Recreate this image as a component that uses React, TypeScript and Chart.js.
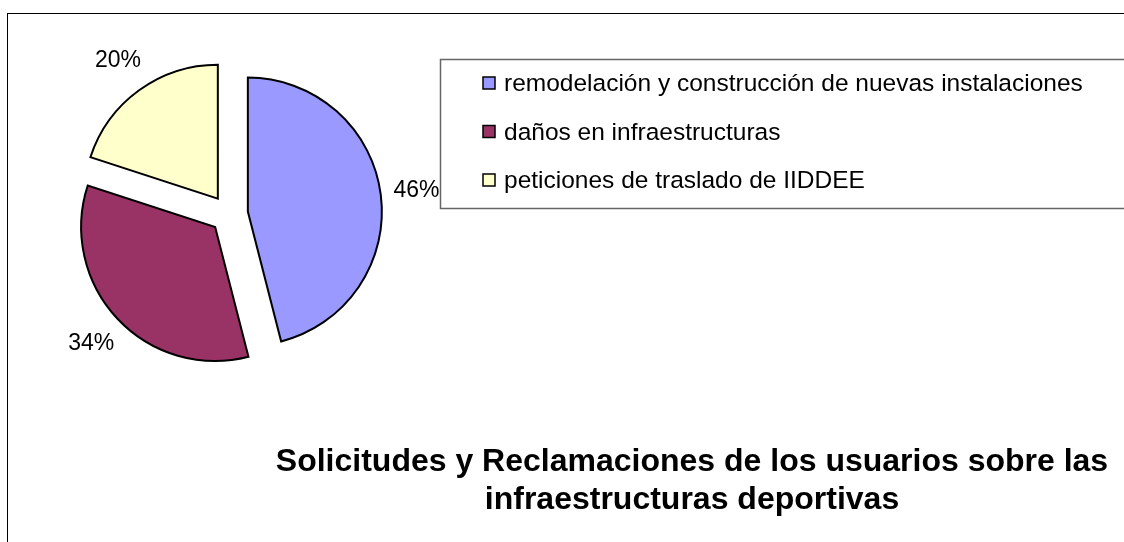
import React, { useEffect, useRef } from 'react';
import { Chart, registerables } from 'chart.js';

Chart.register(...registerables);

const categories = [
  'remodelación y construcción de nuevas instalaciones',
  'daños en infraestructuras',
  'peticiones de traslado de IIDDEE',
];
const values = [46, 34, 20];
const sliceColors = ['#9999FF', '#993366', '#FFFFCC'];
const titleLines = [
  'Solicitudes y Reclamaciones de los usuarios sobre las',
  'infraestructuras deportivas',
];

const FONT = '"Liberation Sans", Arial, Helvetica, sans-serif';
const EXPLODE = 19;
const LABEL_DIST = 189;

const framePlugin = {
  id: 'frame',
  beforeDraw(chart: any) {
    const ctx = chart.ctx;
    ctx.save();
    ctx.fillStyle = '#ffffff';
    ctx.fillRect(0, 0, chart.width, chart.height);
    ctx.strokeStyle = '#000000';
    ctx.lineWidth = 1;
    ctx.strokeRect(7.5, 13.5, chart.width + 20, chart.height + 20);
    ctx.restore();
  },
};

const explodePlugin = {
  id: 'explode',
  beforeDatasetDraw(chart: any, args: any) {
    const ctx = chart.ctx;
    args.meta.data.forEach((arc: any) => {
      const p = arc.getProps(['startAngle', 'endAngle'], true);
      const mid = (p.startAngle + p.endAngle) / 2;
      ctx.save();
      ctx.translate(Math.cos(mid) * EXPLODE, Math.sin(mid) * EXPLODE);
      arc.draw(ctx, chart.chartArea);
      ctx.restore();
    });
    return false;
  },
};

const labelPlugin = {
  id: 'pctLabels',
  afterDatasetsDraw(chart: any) {
    const ctx = chart.ctx;
    const meta = chart.getDatasetMeta(0);
    const data = chart.data.datasets[0].data as number[];
    const total = data.reduce((a, b) => a + b, 0);
    ctx.save();
    ctx.font = `23px ${FONT}`;
    ctx.fillStyle = '#000000';
    ctx.textAlign = 'center';
    ctx.textBaseline = 'middle';
    meta.data.forEach((arc: any, i: number) => {
      const p = arc.getProps(['x', 'y', 'startAngle', 'endAngle'], true);
      const mid = (p.startAngle + p.endAngle) / 2;
      const x = p.x + Math.cos(mid) * LABEL_DIST;
      const y = p.y + Math.sin(mid) * LABEL_DIST;
      ctx.fillText(Math.round((data[i] / total) * 100) + '%', x, y);
    });
    ctx.restore();
  },
};

const legendPlugin = {
  id: 'boxLegend',
  afterDraw(chart: any) {
    const ctx = chart.ctx;
    const labels = chart.data.labels as string[];
    const colors = chart.data.datasets[0].backgroundColor as string[];
    ctx.save();
    ctx.strokeStyle = '#666666';
    ctx.lineWidth = 1.5;
    ctx.strokeRect(440.5, 59.5, 800, 149);
    ctx.font = `24.5px ${FONT}`;
    ctx.textAlign = 'left';
    ctx.textBaseline = 'alphabetic';
    labels.forEach((lab, i) => {
      const base = 91 + i * 48.5;
      ctx.fillStyle = colors[i];
      ctx.fillRect(483, base - 14, 12, 12);
      ctx.strokeStyle = '#000000';
      ctx.lineWidth = 1.5;
      ctx.strokeRect(483, base - 14, 12, 12);
      ctx.fillStyle = '#000000';
      ctx.fillText(lab, 504, base);
    });
    ctx.restore();
  },
};

const titlePlugin = {
  id: 'bottomTitle',
  afterDraw(chart: any) {
    const ctx = chart.ctx;
    ctx.save();
    ctx.font = `bold 32px ${FONT}`;
    ctx.fillStyle = '#000000';
    ctx.textAlign = 'center';
    ctx.textBaseline = 'alphabetic';
    titleLines.forEach((line, i) => {
      ctx.fillText(line, 692, 471 + i * 38);
    });
    ctx.restore();
  },
};

export default function App() {
  const canvasRef = useRef<HTMLCanvasElement | null>(null);

  useEffect(() => {
    if (!canvasRef.current) return;
    const chart = new Chart(canvasRef.current, {
      type: 'pie',
      data: {
        labels: categories,
        datasets: [
          {
            data: values,
            backgroundColor: sliceColors,
            borderColor: '#000000',
            borderWidth: 2,
            borderJoinStyle: 'miter',
            radius: 134,
          } as any,
        ],
      },
      options: {
        animation: false,
        responsive: true,
        maintainAspectRatio: false,
        layout: { padding: { left: 0, right: 666, top: 0, bottom: 114 } },
        plugins: {
          legend: { display: false },
          title: { display: false },
          tooltip: { enabled: false },
        },
        events: [],
      },
      plugins: [framePlugin, explodePlugin, labelPlugin, legendPlugin, titlePlugin],
    });
    return () => chart.destroy();
  }, []);

  return (
    <div style={{ position: 'fixed', left: 0, top: 0, width: 1124, height: 542, background: '#fff' }}>
      <canvas ref={canvasRef} />
    </div>
  );
}
